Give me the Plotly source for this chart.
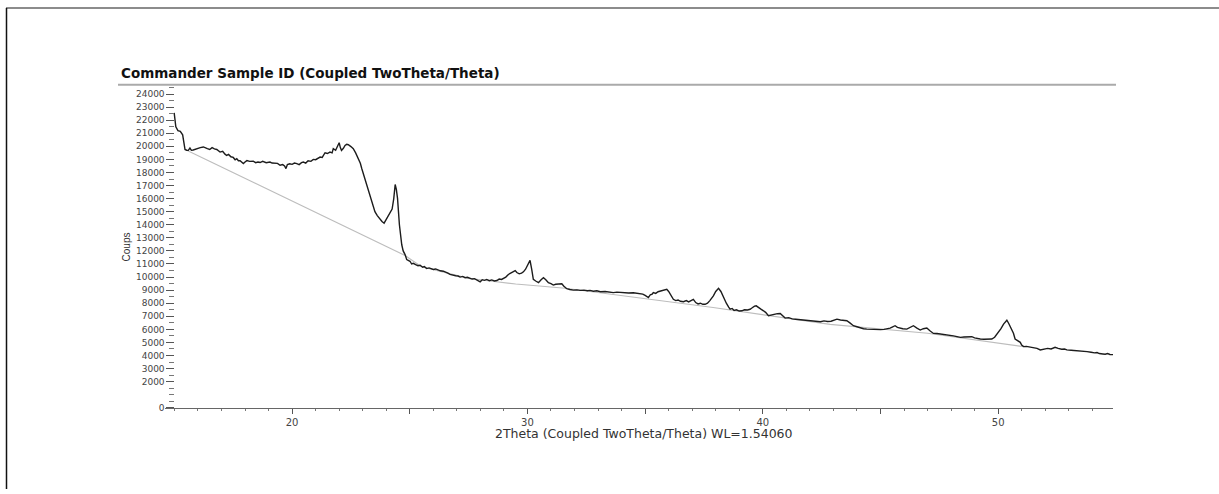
import plotly.graph_objects as go

W, H = 1219, 494

two_theta = [14.99,15.06,15.15,15.25,15.35,15.45,15.52,15.59,15.66,15.72,15.80,15.90,16.02,16.10,16.23,16.32,16.40,16.50,16.60,16.70,16.80,16.94,17.05,17.15,17.22,17.30,17.40,17.50,17.58,17.65,17.72,17.79,17.86,17.93,18.00,18.08,18.20,18.35,18.45,18.55,18.64,18.75,18.90,19.06,19.15,19.27,19.38,19.49,19.60,19.68,19.74,19.80,19.90,20.00,20.10,20.20,20.30,20.40,20.48,20.58,20.68,20.80,20.90,21.00,21.10,21.19,21.28,21.40,21.50,21.61,21.70,21.75,21.85,21.93,22.00,22.05,22.10,22.18,22.25,22.32,22.39,22.50,22.60,22.70,22.81,22.90,22.96,23.03,23.10,23.20,23.31,23.42,23.52,23.62,23.74,23.82,23.91,24.00,24.08,24.16,24.25,24.32,24.38,24.43,24.48,24.56,24.62,24.66,24.72,24.80,24.87,24.94,25.01,25.08,25.15,25.25,25.35,25.44,25.55,25.62,25.72,25.82,25.90,26.00,26.10,26.20,26.30,26.43,26.55,26.62,26.71,26.82,26.95,27.05,27.14,27.25,27.35,27.45,27.56,27.65,27.75,27.85,27.92,27.99,28.08,28.17,28.27,28.38,28.48,28.60,28.70,28.80,28.90,28.98,29.08,29.19,29.30,29.40,29.48,29.55,29.65,29.75,29.83,29.92,30.00,30.11,30.18,30.25,30.35,30.47,30.58,30.68,30.78,30.89,31.00,31.10,31.20,31.30,31.46,31.55,31.67,31.80,31.95,32.10,32.24,32.40,32.55,32.66,32.80,32.95,33.10,33.30,33.50,33.65,33.80,34.00,34.15,34.30,34.50,34.65,34.79,34.90,35.00,35.07,35.14,35.22,35.30,35.35,35.45,35.55,35.64,35.75,35.85,35.92,36.00,36.10,36.20,36.30,36.40,36.50,36.63,36.75,36.85,36.95,37.05,37.15,37.25,37.35,37.45,37.55,37.65,37.75,37.90,38.00,38.12,38.22,38.33,38.45,38.55,38.61,38.70,38.78,38.88,39.00,39.11,39.22,39.35,39.46,39.55,39.65,39.72,39.82,39.92,40.03,40.12,40.24,40.35,40.50,40.62,40.74,40.85,40.95,41.10,41.25,41.40,41.55,41.70,41.87,42.00,42.15,42.29,42.45,42.60,42.75,42.90,43.00,43.15,43.30,43.45,43.57,43.70,43.85,44.00,44.14,44.28,44.42,44.60,44.75,44.85,45.00,45.15,45.30,45.41,45.52,45.62,45.72,45.82,45.95,46.12,46.25,46.40,46.55,46.69,46.82,46.97,47.10,47.25,47.40,47.55,47.70,47.82,47.95,48.10,48.25,48.40,48.55,48.70,48.88,49.00,49.12,49.24,49.40,49.55,49.73,49.85,50.01,50.12,50.23,50.30,50.37,50.45,50.58,50.65,50.72,50.82,50.94,51.00,51.08,51.20,51.35,51.50,51.65,51.79,51.95,52.10,52.25,52.42,52.55,52.70,52.82,52.92,53.10,53.25,53.40,53.52,53.63,53.78,53.95,54.10,54.20,54.30,54.45,54.55,54.65,54.75,54.88]

counts = [22560,21500,21200,21150,20880,19760,19700,19690,19870,19700,19720,19800,19870,19900,19950,19850,19820,19760,19900,19800,19760,19560,19620,19400,19300,19380,19200,19150,18970,19050,18900,18900,18820,18680,18800,18910,18850,18860,18750,18800,18760,18850,18750,18800,18720,18680,18700,18550,18600,18500,18300,18600,18660,18620,18720,18680,18600,18750,18800,18720,18900,18850,19000,18980,19100,19180,19150,19510,19450,19560,19500,19820,19700,19950,20270,19900,19690,19850,20070,20150,20120,19980,19820,19500,19060,18700,18300,17900,17410,16800,16270,15600,15000,14700,14370,14250,14120,14400,14600,14880,15200,16000,17080,16700,16020,14000,13000,12470,12000,11720,11340,11260,11210,11000,11050,10950,10870,10900,10750,10800,10650,10700,10620,10580,10620,10520,10480,10450,10380,10300,10200,10180,10100,10080,10000,10050,9950,9980,9900,9850,9880,9780,9700,9640,9800,9750,9820,9720,9780,9700,9740,9850,9820,9900,10000,10200,10300,10400,10500,10350,10250,10300,10400,10600,10850,11280,10600,9820,9700,9570,9800,9950,9800,9570,9500,9390,9450,9480,9490,9300,9110,9050,9000,9020,8980,9000,8950,8980,8920,8950,8880,8900,8850,8810,8850,8800,8820,8780,8800,8750,8730,8700,8600,8500,8430,8650,8700,8810,8750,8880,8930,8980,9050,9060,8900,8550,8300,8200,8250,8150,8120,8200,8100,8200,8300,8050,7950,8000,7920,7920,8000,8200,8560,8900,9140,8900,8430,8000,7700,7540,7600,7450,7500,7400,7420,7500,7480,7540,7650,7780,7800,7700,7550,7420,7300,7040,7100,7150,7200,7210,7000,6860,6900,6800,6780,6750,6700,6700,6650,6600,6600,6580,6650,6600,6620,6700,6780,6720,6700,6660,6500,6280,6200,6100,6050,6020,6000,5980,5950,5980,6000,6050,6100,6200,6280,6150,6100,6050,6020,6150,6280,6100,5950,6050,6100,5900,5690,5680,5650,5620,5600,5550,5500,5450,5390,5420,5450,5440,5350,5300,5260,5250,5280,5260,5400,5770,6050,6400,6600,6700,6450,6020,5700,5260,5150,5010,4800,4680,4700,4650,4630,4550,4430,4500,4550,4500,4630,4550,4480,4500,4430,4400,4380,4350,4380,4330,4300,4250,4200,4230,4150,4120,4100,4150,4080,4070]

baseline_theta = [15.50, 24.80, 25.50, 26.50, 27.50, 28.50, 29.50, 30.50, 31.60, 37.89, 42.86, 47.00, 50.94, 51.08]
baseline_counts = [19720, 11650, 10800, 10350, 9900, 9680, 9470, 9320, 9150, 7670, 6380, 5700, 4710, 4680]

x_tickvals = [20, 25, 30, 35, 40, 45, 50]
x_ticktext = ["20", "", "30", "", "40", "", "50"]
y_tickvals = [0] + list(range(2000, 24001, 1000))
y_ticktext = [str(v) for v in y_tickvals]

title_text = "Commander Sample ID (Coupled TwoTheta/Theta)"
x_title = "2Theta (Coupled TwoTheta/Theta) WL=1.54060"
y_title = "Coups"

def px(x):
    return x / W

def py(y):
    return 1 - y / H

# plot area in pixels
L, R, T, B = 165, 1113, 86, 412
yaxis_x = 174.4

fig = go.Figure()
fig.add_trace(go.Scatter(x=baseline_theta, y=baseline_counts, mode="lines",
                         line=dict(color="#bdbdbd", width=1.1), hoverinfo="skip"))
fig.add_trace(go.Scatter(x=two_theta, y=counts, mode="lines",
                         line=dict(color="#1c1c1c", width=1.4)))

fig.update_layout(
    width=W, height=H,
    margin=dict(l=0, r=0, t=0, b=0),
    paper_bgcolor="white", plot_bgcolor="white",
    showlegend=False,
    xaxis=dict(domain=[px(L), px(R)], range=[14.6, 54.88],
               showgrid=False, zeroline=False,
               showline=True, linecolor="#666", linewidth=1,
               tickmode="array", tickvals=x_tickvals, ticktext=x_ticktext,
               ticks="outside", ticklen=5, tickcolor="#555", tickwidth=1,
               minor=dict(dtick=1, tick0=0, ticks="outside", ticklen=2, tickcolor="#777"),
               tickfont=dict(family="DejaVu Sans", size=10, color="#444"), anchor="y"),
    yaxis=dict(domain=[py(B), py(T)], range=[0, 24680],
               anchor="free", position=px(yaxis_x),
               showgrid=False, zeroline=False, showline=False,
               tickmode="array", tickvals=y_tickvals, ticktext=y_ticktext,
               ticks="outside", ticklen=8, tickcolor="#555", tickwidth=1,
               minor=dict(dtick=500, tick0=0, ticks="outside", ticklen=5, tickcolor="#777"),
               tickfont=dict(family="DejaVu Sans", size=9, color="#444")),
    shapes=[
        dict(type="line", xref="paper", yref="paper", x0=px(6), x1=1, y0=py(8), y1=py(8),
             line=dict(color="#666", width=1.5)),
        dict(type="line", xref="paper", yref="paper", x0=px(6.5), x1=px(6.5), y0=py(8), y1=0,
             line=dict(color="#111", width=1.5)),
        dict(type="line", xref="paper", yref="paper", x0=px(118), x1=px(1116), y0=py(85.5), y1=py(85.5),
             line=dict(color="#aaa", width=2)),
    ],
    annotations=[
        dict(text="<b>" + title_text + "</b>", xref="paper", yref="paper", x=px(119), y=py(74),
             xanchor="left", yanchor="middle", showarrow=False,
             font=dict(family="DejaVu Sans", size=13.5, color="#111")),
        dict(text=x_title, xref="paper", yref="paper", x=px(644), y=py(438),
             xanchor="center", yanchor="middle", showarrow=False,
             font=dict(family="DejaVu Sans", size=12.5, color="#333")),
        dict(text=y_title, xref="paper", yref="paper", x=px(126), y=py(250),
             xanchor="center", yanchor="middle", showarrow=False, textangle=-90,
             font=dict(family="Liberation Sans", size=10, color="#333")),
    ],
)

fig.write_html("out.html")
